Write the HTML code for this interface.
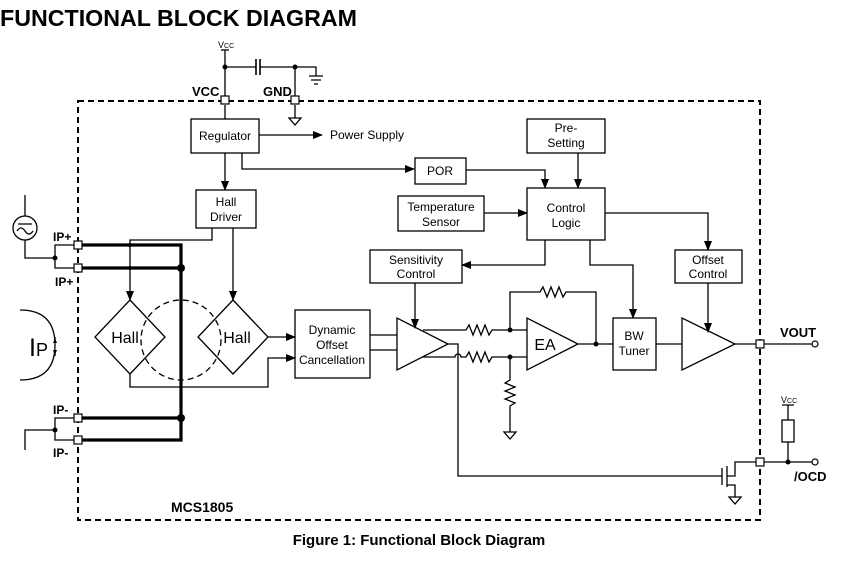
<!DOCTYPE html>
<html><head><meta charset="utf-8"><style>
html,body{margin:0;padding:0;background:#fff;width:851px;height:564px;overflow:hidden}
svg{display:block}
text{font-family:"Liberation Sans",Arial,sans-serif;fill:#000}
</style></head><body>
<svg width="851" height="564" viewBox="0 0 851 564">
<defs>
<marker id="a" markerWidth="10" markerHeight="8" refX="9" refY="4" orient="auto" markerUnits="userSpaceOnUse"><path d="M0,0 L10,4 L0,8z" fill="#000"/></marker>
</defs>
<text x="0" y="26" font-size="23" font-weight="bold" textLength="357" lengthAdjust="spacingAndGlyphs">FUNCTIONAL BLOCK DIAGRAM</text>
<g fill="none" stroke="#000" stroke-width="1.3">
<rect x="78" y="101" width="682" height="419" stroke-width="2" stroke-dasharray="6,4"/>
<path d="M225,50V97 M225,67H256 M260,67H295 M295,67V97 M295,67H316V76 M295,105V118"/>
<path d="M256,59V75 M260,59V75" stroke-width="1.6"/>
<path d="M309,76H323 M311,80H321 M314,84H318"/>
<path d="M221,50H229"/>
<path d="M289,118H301L295,125Z"/>
<rect x="191" y="119" width="68" height="34"/>
<path d="M259,135H322" marker-end="url(#a)"/>
<path d="M242,153V169H414" marker-end="url(#a)"/>
<path d="M225,105V119"/>
<path d="M225,153V190" marker-end="url(#a)"/>
<rect x="415" y="158" width="51" height="26"/>
<path d="M466,170H545V188" marker-end="url(#a)"/>
<rect x="527" y="119" width="78" height="34"/>
<path d="M578,153V188" marker-end="url(#a)"/>
<rect x="527" y="188" width="78" height="52"/>
<rect x="398" y="196" width="86" height="35"/>
<path d="M484,213H527" marker-end="url(#a)"/>
<path d="M605,213H708V250" marker-end="url(#a)"/>
<rect x="675" y="250" width="67" height="33"/>
<path d="M545,240V265H462" marker-end="url(#a)"/>
<rect x="370" y="250" width="92" height="33"/>
<path d="M590,240V265H633V318" marker-end="url(#a)"/>
<rect x="196" y="190" width="60" height="38"/>
<path d="M212,228V240H130V300" marker-end="url(#a)"/>
<path d="M233,228V300" marker-end="url(#a)"/>
<path d="M130,300L165,337L130,374L95,337Z M233,300L268,337L233,374L198,337Z"/>
<circle cx="181" cy="340" r="40" stroke-dasharray="6,4"/>
<path d="M130,374V387H268V358H295" marker-end="url(#a)"/>
<path d="M268,337H295" marker-end="url(#a)"/>
<rect x="295" y="310" width="75" height="68"/>
<path d="M370,335H397 M370,350H397"/>
<path d="M397,318V370L448,344Z"/>
<path d="M415,283V328" marker-end="url(#a)"/>
<path d="M423,330H466l3,-5 4,10 4,-10 4,10 4,-10 4,10 3,-5H527"/>
<path d="M423,357H455a3,3 0 0 1 6,0H466l3,-5 4,10 4,-10 4,10 4,-10 4,10 3,-5H527"/>
<path d="M448,344H458V476H722"/>
<path d="M510,330V292H540l3,-5 4,10 4,-10 4,10 4,-10 4,10 3,-5H596V344"/>
<path d="M510,357V380l-5,3 10,4 -10,4 10,4 -10,4 10,4 -5,3V432"/>
<path d="M504,432H516L510,439Z"/>
<path d="M527,318V370L578,344Z"/>
<path d="M578,344H613"/>
<rect x="613" y="318" width="43" height="52"/>
<path d="M656,344H682"/>
<path d="M682,318V370L735,344Z"/>
<path d="M708,283V332" marker-end="url(#a)"/>
<path d="M735,344H756 M764,344H812"/>
<path d="M722,468V485 M727,466V487 M727,476H735V462H756 M764,462H812 M727,485H735V497"/>
<path d="M729,497H741L735,504Z"/>
<path d="M788,462V442 M788,420V405 M782,405H794"/>
<rect x="782" y="420" width="12" height="22"/>
<path d="M82,245H181V440H82 M82,268H181 M82,418H181" stroke-width="3.2"/>
<path d="M74,245H55V268H74 M55,258H25V240 M25,216V195 M74,418H55V440H74 M55,430H25V450"/>
<circle cx="25" cy="228" r="12"/>
<path d="M18,224H32 M17,231q4,-6 8,0t8,0"/>
<path d="M20,310q35,0 35,35t-35,35"/>
<path d="M55,337V343 M55,350V356"/>
</g>
<g fill="#fff" stroke="#000" stroke-width="1.2">
<rect x="221" y="96" width="8" height="8"/><rect x="291" y="96" width="8" height="8"/>
<rect x="74" y="241" width="8" height="8"/><rect x="74" y="264" width="8" height="8"/>
<rect x="74" y="414" width="8" height="8"/><rect x="74" y="436" width="8" height="8"/>
<rect x="756" y="340" width="8" height="8"/><rect x="756" y="458" width="8" height="8"/>
<circle cx="815" cy="344" r="3"/><circle cx="815" cy="462" r="3"/>
</g>
<g fill="#000">
<circle cx="225" cy="67" r="2.5"/><circle cx="295" cy="67" r="2.5"/>
<circle cx="181" cy="268" r="4"/><circle cx="181" cy="418" r="4"/>
<circle cx="130" cy="245" r="2"/><circle cx="130" cy="268" r="2"/>
<circle cx="55" cy="258" r="2.5"/><circle cx="55" cy="430" r="2.5"/>
<circle cx="510" cy="330" r="2.5"/><circle cx="510" cy="357" r="2.5"/>
<circle cx="596" cy="344" r="2.5"/><circle cx="788" cy="462" r="2.5"/>
<path d="M53,343h4l-2,-5z M53,350h4l-2,5z"/>
</g>
<g font-size="12" text-anchor="middle">
<text x="225" y="140">Regulator</text>
<text x="440" y="175">POR</text>
<text x="566" y="132">Pre-</text><text x="566" y="147">Setting</text>
<text x="566" y="212">Control</text><text x="566" y="227">Logic</text>
<text x="441" y="211">Temperature</text><text x="441" y="226">Sensor</text>
<text x="708" y="264">Offset</text><text x="708" y="278">Control</text>
<text x="416" y="264">Sensitivity</text><text x="416" y="278">Control</text>
<text x="226" y="206">Hall</text><text x="226" y="221">Driver</text>
<text x="332" y="334">Dynamic</text><text x="332" y="349">Offset</text><text x="332" y="364">Cancellation</text>
<text x="634" y="340">BW</text><text x="634" y="355">Tuner</text>
<text x="125" y="343" font-size="16">Hall</text>
<text x="237" y="343" font-size="16">Hall</text>
<text x="545" y="350" font-size="16">EA</text>
</g>
<text x="330" y="139" font-size="12">Power Supply</text>
<text x="192" y="96" font-size="13" font-weight="bold">VCC</text>
<text x="263" y="96" font-size="13" font-weight="bold">GND</text>
<text x="218" y="48" font-size="9">V<tspan font-size="7">CC</tspan></text>
<text x="781" y="403" font-size="9">V<tspan font-size="7">CC</tspan></text>
<text x="53" y="241" font-size="12" font-weight="bold">IP+</text>
<text x="55" y="286" font-size="12" font-weight="bold">IP+</text>
<text x="53" y="414" font-size="12" font-weight="bold">IP-</text>
<text x="53" y="457" font-size="12" font-weight="bold">IP-</text>
<text x="29" y="356" font-size="25">I<tspan font-size="18">P</tspan></text>
<text x="780" y="337" font-size="13" font-weight="bold">VOUT</text>
<text x="794" y="481" font-size="13" font-weight="bold">/OCD</text>
<text x="171" y="512" font-size="14" font-weight="bold">MCS1805</text>
<text x="419" y="545" font-size="15" font-weight="bold" text-anchor="middle">Figure 1: Functional Block Diagram</text>
</svg>
</body></html>
